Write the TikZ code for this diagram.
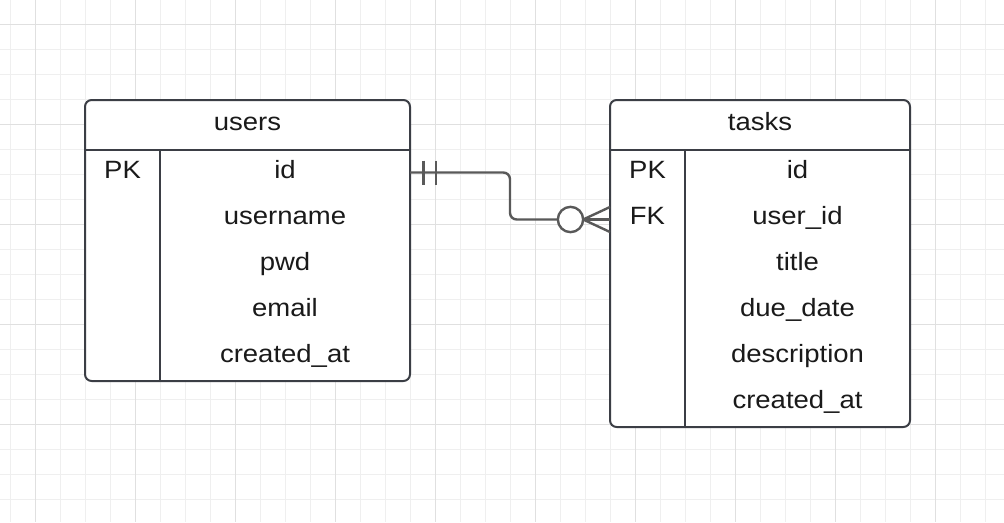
\documentclass[tikz,border=0pt]{standalone}
\usepackage{fontspec}
\setmainfont{Liberation Sans}[FakeStretch=1.1]
\usetikzlibrary{calc}
\definecolor{boxc}{HTML}{3B3E45}
\definecolor{connc}{HTML}{595959}
\definecolor{textc}{HTML}{1A1A1A}
\definecolor{gridminor}{HTML}{EFEFEF}
\definecolor{gridmajor}{HTML}{E0E0E0}
\begin{document}
\begin{tikzpicture}[x=0.75pt,y=-0.75pt,
  minorgrid/.style={draw=gridminor, line width=0.75pt},
  majorgrid/.style={draw=gridmajor, line width=0.75pt},
  tablebox/.style={draw=boxc, line width=1.5pt, rounded corners=5pt, fill=white, inner sep=0pt, outer sep=0pt, rectangle},
  divider/.style={draw=boxc, line width=1.5pt},
  conn/.style={draw=connc, line width=1.8pt},
  lbl/.style={anchor=base, inner sep=0pt, text=textc, font=\fontsize{18.75pt}{22pt}\selectfont}]
\useasboundingbox (0,0) rectangle (1004,522);
\fill[white] (0,0) rectangle (1004,522);
% grid
\foreach \i in {0,...,39} {\draw[minorgrid] ({10.7+25*\i},0) -- ({10.7+25*\i},522);}
\foreach \j in {1,...,21} {\draw[minorgrid] (0,{-0.7+25*\j}) -- (1004,{-0.7+25*\j});}
\foreach \i in {0,...,9} {\draw[majorgrid] ({35.7+100*\i},0) -- ({35.7+100*\i},522);}
\foreach \j in {0,...,4} {\draw[majorgrid] (0,{24.3+100*\j}) -- (1004,{24.3+100*\j});}
% tables
\node[tablebox, minimum width=243.75pt, minimum height=210.75pt] (users) at (247.5,240.5) {};
\node[tablebox, minimum width=225pt, minimum height=245.25pt] (tasks) at (760,263.5) {};
\draw[divider] ($(users.north west)+(0,50)$) -- ($(users.north east)+(0,50)$);
\draw[divider] ($(users.north west)+(75,50)$) -- ($(users.south west)+(75,0)$);
\draw[divider] ($(tasks.north west)+(0,50)$) -- ($(tasks.north east)+(0,50)$);
\draw[divider] ($(tasks.north west)+(75,50)$) -- ($(tasks.south west)+(75,0)$);
% users text
\node[lbl] (uhead) at (247.5,130) {users};
\node[lbl] (upk) at (122.5,178) {PK};
\node[lbl] (uid) at (285,178) {id};
\node[lbl] (uname) at (285,224) {username};
\node[lbl] (upwd) at (285,270) {pwd};
\node[lbl] (uemail) at (285,316) {email};
\node[lbl] (ucreated) at (285,362) {created\_at};
% tasks text
\node[lbl] (thead) at (760,130) {tasks};
\node[lbl] (tpk) at (647.5,178) {PK};
\node[lbl] (tfk) at (647.5,224) {FK};
\node[lbl] (tid) at (797.5,178) {id};
\node[lbl] (tuid) at (797.5,224) {user\_id};
\node[lbl] (ttitle) at (797.5,270) {title};
\node[lbl] (tdue) at (797.5,316) {due\_date};
\node[lbl] (tdesc) at (797.5,362) {description};
\node[lbl] (tcreated) at (797.5,408) {created\_at};
% connector
\coordinate (A) at ($(users.north east)+(0,72.5)$);
\coordinate (F) at ($(tasks.north west)+(0,119.5)$);
\coordinate (bend) at (510,0);
\node[circle, draw=connc, line width=1.8pt, fill=white, minimum size=19pt, inner sep=0pt, outer sep=0pt] (zc) at (570.5,219.5) {};
\draw[conn, rounded corners=5pt] (A) -| (bend |- zc.west) -- (zc.west);
\draw[conn] ($(A)+(13.3,-12)$) -- ($(A)+(13.3,12)$);
\draw[conn] ($(A)+(25.7,-12)$) -- ($(A)+(25.7,12)$);
\draw[conn] (zc.east) -- (F);
\draw[conn] (zc.east) -- ($(F)+(0,-12.5)$);
\draw[conn] (zc.east) -- ($(F)+(0,12.5)$);
\end{tikzpicture}
\end{document}
